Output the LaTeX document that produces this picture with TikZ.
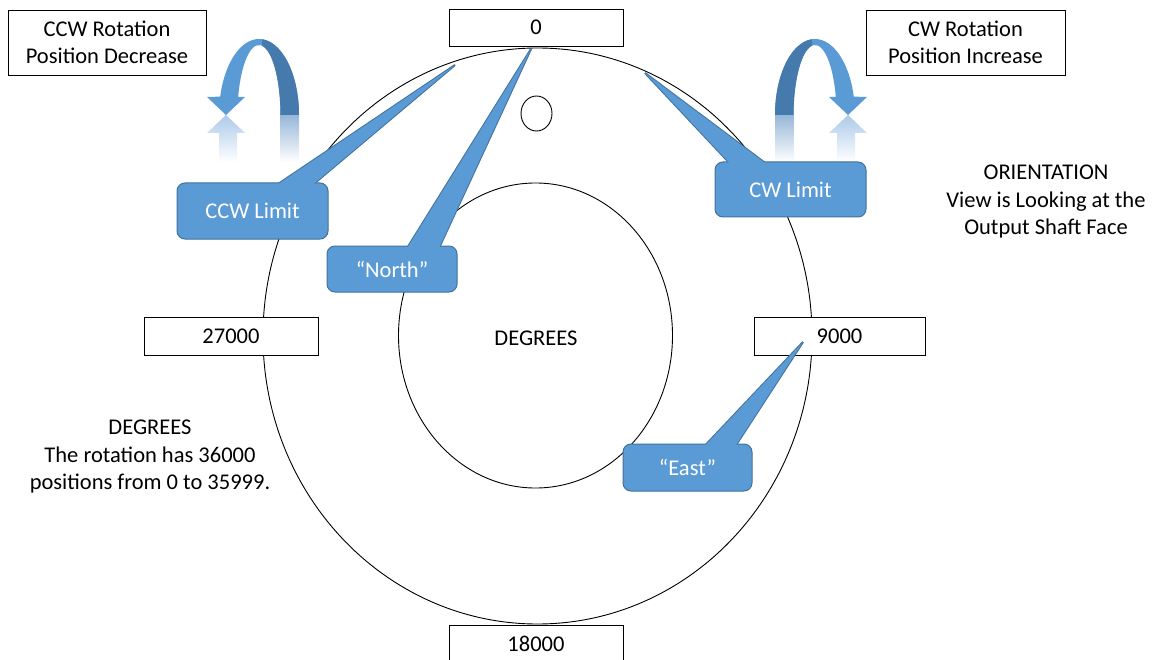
\documentclass[tikz,border=0pt]{standalone}
\usepackage{fontspec}
\setmainfont{Carlito}
\usetikzlibrary{calc}
\definecolor{cfill}{RGB}{91,155,213}
\definecolor{cedge}{RGB}{65,113,156}
\definecolor{cdark}{RGB}{70,122,172}
\definecolor{crefl}{RGB}{172,202,234}
\definecolor{creflD}{RGB}{150,182,216}
\pgfdeclarelayer{back}
\pgfdeclarelayer{mid}
\pgfsetlayers{back,mid,main}
\newcommand{\rotbandfill}[1]{%
  \fill[#1] (40,115) arc[start angle=0,end angle=-166,x radius=40,y radius=76]
    -- (-52,97) -- (-33,115) -- (-14,97) -- (-20.8,97)
    arc[start angle=-165.1,end angle=0,x radius=21.5,y radius=70] -- cycle;}
\newcommand{\rotarrowbody}{%
  \shade[top color=creflD, bottom color=white] (21.5,115) rectangle (40,162);
  \shade[top color=crefl, bottom color=white] (-33,115) -- (-14,133) -- (-22,133)
    -- (-22,162) -- (-40,162) -- (-40,133) -- (-52,133) -- cycle;
  \rotbandfill{cfill}
  \begin{scope}
    \clip (3,20) rectangle (60,116);
    \rotbandfill{cdark}
  \end{scope}}
\begin{document}
\begin{tikzpicture}[x=1pt,y=-1pt,
  txt/.style={font=\fontsize{22.5}{27.5}\selectfont, align=center},
  lbox/.style={txt, draw=black, fill=white, line width=0.9pt, inner sep=0pt},
  callout/.style={txt, draw=cedge, line width=1pt, fill=cfill, text=white,
    rounded corners=8pt, inner sep=0pt},
  ptrback/.style={draw=cedge, line width=2pt, fill=cfill, line join=bevel},
  ptrfront/.style={fill=cfill},
  ring/.style={draw=black, line width=0.9pt}]
\useasboundingbox (0,0) rectangle (1155,660);

\begin{pgfonlayer}{back}
  % dial rings
  \draw[ring] (537.5,336) ellipse [x radius=274.5, y radius=288];
  \draw[ring] (535.5,335.5) ellipse [x radius=137, y radius=152.5];
  \draw[ring] (536.5,113.5) ellipse [x radius=15.5, y radius=17.5];
  % position boxes
  \node[lbox, minimum width=174, minimum height=37] (p0) at (536,27.5) {0};
  \node[lbox, minimum width=171, minimum height=38] (p9000) at (839.5,336) {9000};
  \node[lbox, minimum width=174, minimum height=38] (p27000) at (231,336) {27000};
  \node[lbox, minimum width=174, minimum height=37] (p18000) at (536,643.5) {18000};
  \node[lbox, minimum width=198, minimum height=65] (ccwtxt) at (107,42.5) {CCW Rotation\\Position Decrease};
  \node[lbox, minimum width=199, minimum height=65] (cwtxt) at (965.5,42.5) {CW Rotation\\Position Increase};
\end{pgfonlayer}

% rotation arrows
\begin{scope}[shift={(259,0)}]
  \rotarrowbody
\end{scope}
\begin{scope}[shift={(815,0)}, xscale=-1]
  \rotarrowbody
\end{scope}

% texts
\node[txt] (deg) at (536,338) {DEGREES};
\node[txt] (orient) at (1046,202) {ORIENTATION\\View is Looking at the\\Output Shaft Face};
\node[txt] (degnote) at (150,457) {DEGREES\\The rotation has 36000\\positions from 0 to 35999.};

% callouts
\coordinate (tccw) at (455,65);
\coordinate (tnorth) at (531,49);
\coordinate (tcw) at (645,73);
\coordinate (teast) at (803,342);

\node[callout, minimum width=151, minimum height=56] (ccwlim) at (252.5,211) {CCW Limit};
\node[callout, minimum width=130, minimum height=46] (north) at (392,269) {“North”};
\node[callout, minimum width=151, minimum height=55] (cwlim) at (790.5,189.5) {CW Limit};
\node[callout, minimum width=129, minimum height=47] (east) at (687.5,467.5) {“East”};

\begin{pgfonlayer}{mid}
  \path[ptrback] ($(ccwlim.north west)+(89,10)$) -- (tccw) -- ($(ccwlim.north west)+(127,10)$) -- cycle;
  \path[ptrback] ($(north.north west)+(76,10)$) -- (tnorth) -- ($(north.north west)+(109,10)$) -- cycle;
  \path[ptrback] ($(cwlim.north west)+(23,10)$) -- (tcw) -- ($(cwlim.north west)+(62,10)$) -- cycle;
  \path[ptrback] ($(east.north west)+(75,10)$) -- (teast) -- ($(east.north west)+(108,10)$) -- cycle;
\end{pgfonlayer}
\path[ptrfront] ($(ccwlim.north west)+(89,10)$) -- (tccw) -- ($(ccwlim.north west)+(127,10)$) -- cycle;
\path[ptrfront] ($(north.north west)+(76,10)$) -- (tnorth) -- ($(north.north west)+(109,10)$) -- cycle;
\path[ptrfront] ($(cwlim.north west)+(23,10)$) -- (tcw) -- ($(cwlim.north west)+(62,10)$) -- cycle;
\path[ptrfront] ($(east.north west)+(75,10)$) -- (teast) -- ($(east.north west)+(108,10)$) -- cycle;
\end{tikzpicture}
\end{document}
